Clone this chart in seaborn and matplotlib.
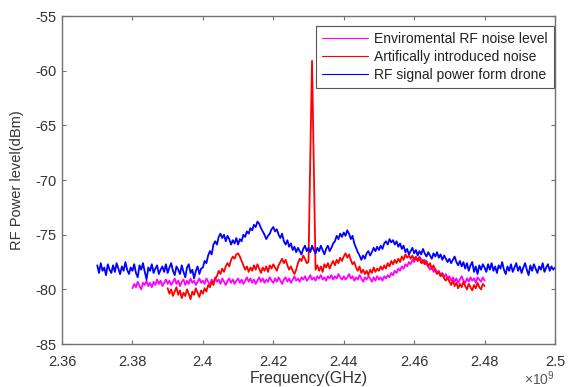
import numpy as np
import pandas as pd
import seaborn as sns
from matplotlib import pyplot as plt
from matplotlib.ticker import FormatStrFormatter

# frequency grids (GHz), one sample every 0.5 MHz
step = 0.0005
blue_start, magenta_start, red_start = 2.370, 2.380, 2.390

# RF signal power from drone (dBm), 2.370 -> 2.500
drone_power = [
    -77.8, -78.5, -77.6, -78.3, -78.0, -78.7, -77.7, -78.2, -78.5, -77.8, -78.4, -77.6, -78.1, -78.6, -77.9, -78.3, -77.5, -78.2, -78.6, -78.0,
    -78.3, -77.7, -78.5, -78.9, -77.8, -78.2, -77.6, -78.4, -79.1, -78.0, -78.3, -77.7, -78.5, -78.1, -77.8, -78.6, -78.2, -77.9, -78.4, -77.7,
    -78.5, -78.0, -77.6, -78.3, -78.7, -77.9, -78.2, -78.6, -77.8, -78.4, -78.9, -78.0, -77.7, -78.5, -78.2, -79.0, -78.3, -77.9, -78.6, -78.1,
    -78.0, -77.4, -77.6, -76.9, -76.5, -76.8, -75.9, -75.6, -75.9, -75.2, -74.9, -75.3, -75.0, -75.6, -75.1, -75.4, -75.9, -75.5, -75.8, -75.3,
    -75.9, -75.4, -75.6, -75.0, -75.2, -74.7, -74.9, -74.4, -74.6, -74.1, -74.3, -73.8, -74.0, -74.4, -74.7, -75.0, -75.4, -75.1, -74.9, -74.5,
    -74.3, -74.7, -74.5, -75.0, -75.3, -74.9, -75.6, -75.9, -75.5, -76.1, -75.8, -76.4, -76.1, -76.6, -76.2, -76.5, -76.8, -76.3, -76.0, -76.5,
    -76.2, -76.6, -76.0, -76.4, -76.7, -76.2, -76.5, -76.0, -76.4, -76.8, -76.3, -76.0, -76.5, -76.2, -75.8, -75.6, -75.1, -75.4, -74.9, -75.2,
    -74.8, -75.1, -74.6, -74.9, -75.4, -75.1, -75.8, -76.2, -76.6, -76.9, -77.3, -76.9, -77.2, -76.7, -76.5, -76.9, -76.6, -76.2, -76.5, -76.1,
    -76.4, -76.0, -76.3, -75.8, -75.6, -75.9, -75.4, -75.7, -75.5, -75.9, -75.6, -76.1, -75.8, -76.3, -76.0, -76.6, -76.3, -76.8, -76.5, -76.2,
    -76.7, -76.4, -76.9, -76.5, -76.8, -76.3, -76.7, -77.0, -76.6, -76.9, -77.2, -76.7, -77.0, -76.6, -77.1, -76.8, -77.3, -76.9, -77.2, -77.5,
    -77.2, -77.6, -77.3, -77.0, -77.5, -77.8, -77.4, -77.9, -77.5, -78.1, -77.6, -78.3, -77.8, -77.5, -78.4, -77.9, -78.6, -77.8, -78.2, -77.7,
    -78.0, -78.4, -77.7, -78.2, -77.6, -78.3, -77.9, -78.5, -77.8, -78.1, -77.5, -78.2, -78.6, -77.9, -78.3, -77.7, -78.4, -78.0, -77.6, -78.3,
    -77.9, -78.5, -78.0, -77.6, -78.2, -78.7, -77.8, -78.3, -77.7, -78.1, -78.5, -77.9, -78.2, -77.6, -78.4, -78.0, -77.7, -78.3, -77.9, -78.2,
    -78.0,
]

# environmental RF noise (dBm), 2.380 -> 2.480
env_noise = [
    -79.9, -79.5, -79.8, -79.3, -79.7, -80.0, -79.4, -79.6, -79.2, -79.7, -79.4, -79.8, -79.3, -79.6, -79.1, -79.5, -79.2, -79.7, -79.4, -79.1,
    -79.5, -79.2, -79.6, -79.3, -79.0, -79.5, -79.2, -79.7, -79.3, -79.1, -79.6, -79.2, -79.5, -79.0, -79.4, -79.2, -79.6, -79.3, -79.0, -79.4,
    -79.2, -79.5, -79.0, -79.3, -79.6, -79.1, -79.4, -78.9, -79.3, -79.1, -79.5, -79.0, -79.3, -79.6, -79.2, -79.0, -79.4, -79.1, -79.5, -79.2,
    -79.0, -79.4, -79.1, -79.5, -79.2, -78.9, -79.3, -79.0, -79.4, -79.1, -79.5, -79.2, -78.9, -79.3, -79.0, -79.4, -79.1, -79.3, -78.9, -79.2,
    -79.4, -79.0, -79.3, -78.9, -79.2, -79.5, -79.1, -78.9, -79.3, -79.0, -79.4, -79.1, -78.8, -79.2, -79.0, -79.3, -78.9, -79.1, -78.8, -79.2,
    -79.0, -78.7, -79.1, -78.9, -79.2, -78.8, -79.0, -78.7, -79.1, -78.9, -79.2, -78.8, -79.0, -78.7, -79.1, -78.8, -79.0, -78.6, -78.9, -79.1,
    -78.8, -79.1, -78.9, -78.6, -79.0, -78.8, -79.2, -78.9, -79.1, -78.7, -79.0, -79.3, -78.9, -79.1, -78.8, -79.0, -79.3, -78.9, -79.2, -78.8,
    -79.1, -78.9, -79.2, -78.8, -79.0, -78.7, -78.9, -78.5, -78.7, -78.3, -78.5, -78.1, -78.3, -77.9, -78.1, -77.7, -77.9, -77.5, -77.7, -77.3,
    -77.5, -77.1, -77.4, -77.0, -77.3, -77.6, -77.3, -77.7, -77.9, -78.2, -78.0, -78.4, -78.1, -78.5, -78.3, -78.7, -78.5, -78.9, -78.6, -79.0,
    -78.8, -79.2, -78.9, -79.3, -79.0, -79.4, -79.1, -78.8, -79.2, -79.4, -79.0, -79.3, -78.9, -79.2, -79.0, -79.4, -78.9, -79.1, -79.3, -78.9,
    -79.2,
]

# artificially introduced noise (dBm), 2.390 -> 2.480, spike near 2.431
art_noise = [
    -79.9, -80.4, -80.0, -80.6, -80.2, -79.8, -80.5, -80.1, -80.8, -80.3, -80.6, -80.0, -80.4, -80.9, -80.2, -80.5, -79.9, -80.3, -80.7, -80.1,
    -80.4, -79.9, -80.2, -79.6, -79.8, -79.3, -79.6, -79.0, -78.8, -78.3, -78.6, -78.1, -78.4, -77.9, -77.6, -77.9, -77.3, -77.0, -77.2, -76.8,
    -76.7, -77.0, -77.4, -77.8, -78.2, -77.9, -78.4, -78.0, -78.3, -77.8, -78.2, -77.7, -78.1, -78.5, -78.0, -78.3, -77.9, -78.4, -77.8, -78.1,
    -77.7, -78.0, -78.3, -77.8, -77.5, -77.2, -77.6, -77.3, -77.8, -78.2, -77.9, -78.3, -78.6, -78.2, -77.6, -77.2, -77.4, -76.9, -77.2, -77.6,
    -77.5, -68.0, -59.1, -68.5, -78.2, -77.8, -78.3, -77.9, -78.4, -77.7, -78.0, -77.6, -78.1, -77.7, -77.4, -77.8, -77.3, -77.6, -77.1, -77.4,
    -77.0, -76.7, -77.1, -76.8, -77.3, -77.7, -77.5, -78.0, -78.3, -77.9, -78.5, -78.2, -78.6, -78.3, -78.7, -78.2, -78.5, -78.0, -78.4, -78.1,
    -78.3, -77.9, -78.2, -77.8, -78.1, -77.6, -77.9, -77.4, -77.7, -77.3, -77.6, -77.2, -77.5, -77.0, -77.3, -76.8, -77.1, -76.9, -77.2, -76.9,
    -77.3, -77.0, -77.4, -77.1, -77.6, -77.3, -77.7, -77.4, -77.9, -77.6, -78.1, -77.8, -78.3, -78.6, -78.4, -78.8, -78.6, -79.0, -79.2, -78.9,
    -79.3, -79.6, -79.2, -79.7, -79.4, -79.9, -79.5, -79.8, -79.3, -79.7, -80.0, -79.5, -79.8, -80.1, -79.6, -79.9, -79.4, -79.8, -80.0, -79.5,
    -79.7,
]

labels = ['Enviromental RF noise level', 'Artifically introduced noise', 'RF signal power form drone']
colors = ['#ff00ff', '#ff0000', '#0000ff']


def freq_axis(start, values):
    return start + step * np.arange(len(values))


series = [
    (freq_axis(magenta_start, env_noise), env_noise),
    (freq_axis(red_start, art_noise), art_noise),
    (freq_axis(blue_start, drone_power), drone_power),
]

sns.set_style('white')
plt.rcParams['font.family'] = ['Liberation Sans', 'DejaVu Sans']
plt.rcParams['mathtext.fontset'] = 'custom'
plt.rcParams['mathtext.rm'] = 'Liberation Sans'
plt.rcParams['axes.unicode_minus'] = False

fig = plt.figure(figsize=(5.69, 3.87), dpi=100)
ax = fig.add_axes([0.109, 0.111, 0.8664, 0.8475])

for (f, p), lab, col in zip(series, labels, colors):
    df = pd.DataFrame({'freq': f, 'power': p})
    sns.lineplot(data=df, x='freq', y='power', ax=ax, color=col, label=lab,
                 linewidth=1.3, sort=False)

ax.set_xlim(2.36, 2.5)
ax.set_ylim(-85, -55)
ax.set_xticks([2.36, 2.38, 2.40, 2.42, 2.44, 2.46, 2.48, 2.50])
ax.set_yticks([-85, -80, -75, -70, -65, -60, -55])
ax.xaxis.set_major_formatter(FormatStrFormatter('%g'))

axis_col = '#707070'
text_col = '#333333'
for s in ax.spines.values():
    s.set_visible(True)
    s.set_color(axis_col)
    s.set_linewidth(1.0)
ax.tick_params(direction='in', length=3, width=0.8, color=axis_col,
               labelcolor=text_col, labelsize=10.5, top=True, right=True,
               bottom=True, left=True)
ax.tick_params(axis='x', pad=8)
ax.tick_params(axis='y', pad=4)

ax.set_xlabel('Frequency(GHz)', fontsize=11.5, color=text_col, labelpad=1)
ax.set_ylabel('RF Power level(dBm)', fontsize=10.5, color=text_col)
ax.yaxis.set_label_coords(-0.078, 0.5)

fig.text(0.975, 0.022, r'$\times\mathregular{10^9}$', ha='right', va='center',
         fontsize=10, color='#555555')

leg = ax.legend(loc='upper right', bbox_to_anchor=(0.997, 0.97), fontsize=10,
                frameon=True, fancybox=False, framealpha=1, edgecolor='#555555',
                handlelength=3.3, handletextpad=0.4, labelspacing=0.28,
                borderpad=0.45, borderaxespad=0.0)
leg.get_frame().set_linewidth(0.8)
for t in leg.get_texts():
    t.set_color('#222222')
for h in leg.get_lines():
    h.set_linewidth(0.8)

plt.savefig('out.png', dpi=100)
